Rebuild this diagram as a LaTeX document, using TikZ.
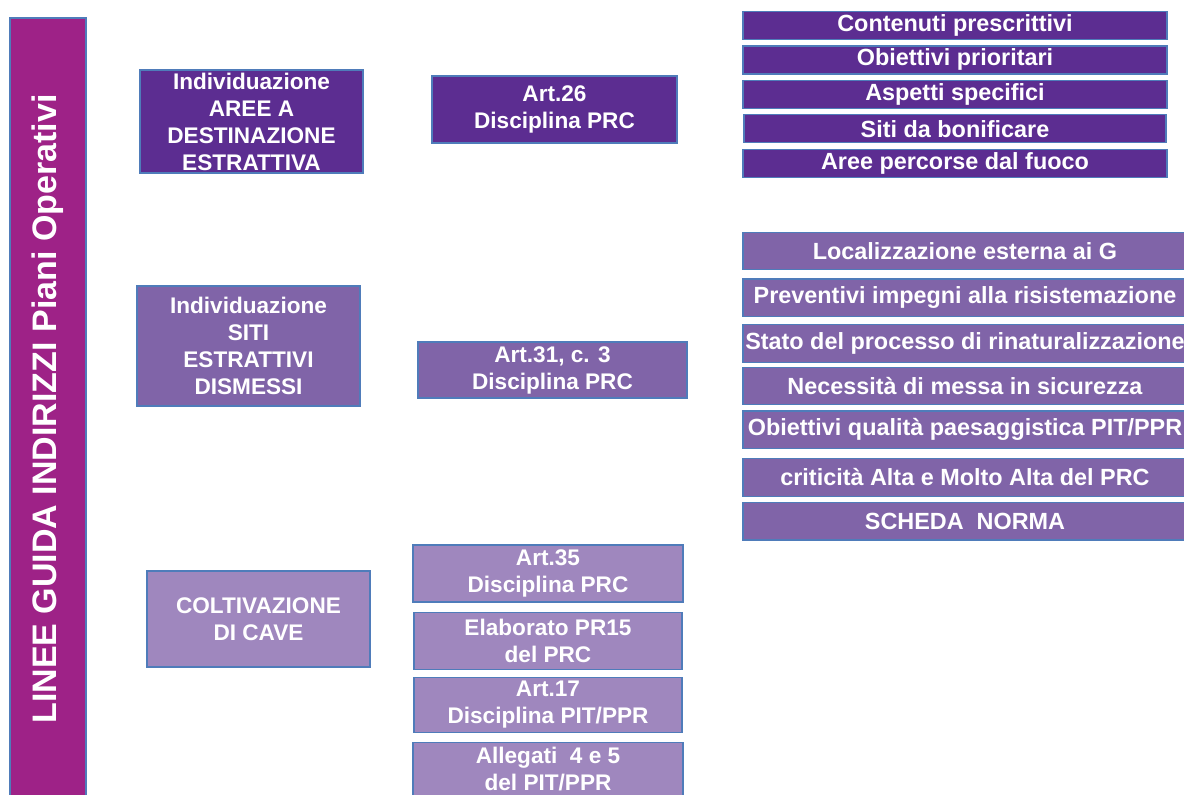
\documentclass[tikz,border=0pt]{standalone}
\usepackage{fontspec}
\setmainfont{Liberation Sans}
\usetikzlibrary{positioning}
\definecolor{scuro}{HTML}{5C2D91}
\definecolor{medio}{HTML}{8064A8}
\definecolor{chiaro}{HTML}{9F87BE}
\definecolor{barra}{HTML}{9E2287}
\definecolor{bordo}{HTML}{4F7CBA}

\begin{document}
\begin{tikzpicture}[
  x=0.5pt, y=-0.5pt,
  font=\bfseries\fontsize{11.3pt}{13.5pt}\selectfont,
  box/.style={draw=bordo, line width=0.6pt, text=white, align=center, inner sep=1pt},
  scurobox/.style={box, fill=scuro},
  mediobox/.style={box, fill=medio},
  chiarobox/.style={box, fill=chiaro},
  voce/.style={font=\bfseries\fontsize{11.7pt}{13.5pt}\selectfont}
]
\useasboundingbox (0,0) rectangle (1184,794);
\clip (0,0) rectangle (1184,794);
% barra verticale
\node[box, fill=barra, rotate=90, minimum width=391pt, minimum height=38pt,
  font=\bfseries\fontsize{17pt}{20pt}\selectfont] (linee) at (48,409) {LINEE GUIDA INDIRIZZI Piani Operativi};
% aree a destinazione estrattiva
\node[scurobox, minimum width=111.5pt, minimum height=51.5pt] (aree) at (251.5,121.5) {Individuazione\\AREE A\\DESTINAZIONE\\ESTRATTIVA};
\node[scurobox, minimum width=122.5pt, minimum height=33.5pt] (art26) at (554.5,109.5) {Art.26\\Disciplina PRC};
\node[scurobox, voce, minimum width=212pt, minimum height=14pt] (contenuti) at (955,25.5) {Contenuti prescrittivi};
\node[scurobox, voce, minimum width=212pt, minimum height=14pt, below=2.6pt of contenuti] (obiettivi) {Obiettivi prioritari};
\node[scurobox, voce, minimum width=212pt, minimum height=14pt, below=2.6pt of obiettivi] (aspetti) {Aspetti specifici};
\node[scurobox, voce, minimum width=211pt, minimum height=14pt, below=2.6pt of aspetti] (bonifica) {Siti da bonificare};
\node[scurobox, voce, minimum width=212pt, minimum height=14pt, below=2.6pt of bonifica] (fuoco) {Aree percorse dal fuoco};
% siti estrattivi dismessi
\node[mediobox, minimum width=111.5pt, minimum height=60pt] (siti) at (248.5,346) {Individuazione\\SITI\\ESTRATTIVI\\DISMESSI};
\node[mediobox, minimum width=134.5pt, minimum height=28pt] (art31) at (552.5,370) {Art.31, c. 3\\Disciplina PRC};
\node[mediobox, voce, minimum width=222pt, minimum height=18.75pt] (local) at (965,251) {Localizzazione esterna ai G};
\node[mediobox, voce, minimum width=222pt, minimum height=18.75pt, below=4pt of local] (impegni) {Preventivi impegni alla risistemazione};
\node[mediobox, voce, minimum width=222pt, minimum height=18.75pt, below=3.5pt of impegni] (stato) {Stato del processo di rinaturalizzazione};
\node[mediobox, voce, minimum width=222pt, minimum height=18.75pt, below=2pt of stato] (sicurezza) {Necessità di messa in sicurezza};
\node[mediobox, voce, minimum width=222pt, minimum height=18.75pt, below=2.5pt of sicurezza] (qualita) {Obiettivi qualità paesaggistica PIT/PPR};
\node[mediobox, voce, minimum width=222pt, minimum height=18.75pt, below=4.5pt of qualita] (criticita) {criticità Alta e Molto Alta del PRC};
\node[mediobox, voce, minimum width=222pt, minimum height=18.75pt, below=2.5pt of criticita] (scheda) {SCHEDA\ \ NORMA};
% coltivazione di cave
\node[chiarobox, minimum width=111.5pt, minimum height=48pt] (cave) at (258.5,619) {COLTIVAZIONE\\DI CAVE};
\node[chiarobox, minimum width=135pt, minimum height=28.5pt] (art35) at (548,573.5) {Art.35\\Disciplina PRC};
\node[chiarobox, minimum width=134pt, minimum height=28.5pt, below=4.5pt of art35] (pr15) {Elaborato PR15\\del PRC};
\node[chiarobox, minimum width=134pt, minimum height=27.5pt, below=3.5pt of pr15] (art17) {Art.17\\Disciplina PIT/PPR};
\node[chiarobox, minimum width=135pt, minimum height=26.5pt, below=4.5pt of art17] (allegati) {Allegati\ \ 4 e 5\\del PIT/PPR};
\end{tikzpicture}
\end{document}
